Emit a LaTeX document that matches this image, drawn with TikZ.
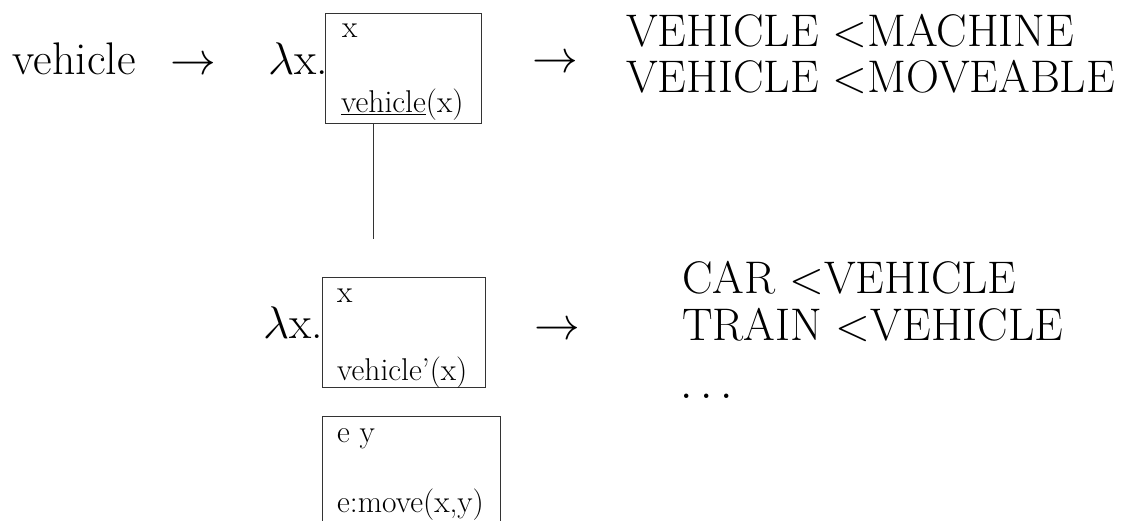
\RequirePackage{fix-cm}
\documentclass[tikz,border=0pt]{standalone}
\usepackage{fontspec}
\setmainfont{Latin Modern Roman}
\begin{document}
\begin{tikzpicture}[x=1pt,y=-1pt,
  big/.style={anchor=base west, inner sep=0pt, font=\fontsize{45.7}{54}\selectfont},
  small/.style={anchor=base west, inner sep=0pt, font=\fontsize{31.5}{37}\selectfont},
  drsbox/.style={draw=black!80, line width=0.9pt, anchor=north west, inner sep=0pt, minimum width=#1},
  ln/.style={draw=black!80, line width=0.9pt}]
\useasboundingbox (0,0) rectangle (1124,521);
\clip (0,0) rectangle (1124,521);
% row 1
\node[big] (veh) at (12.7,75) {vehicle};
\node[big] (ar1) at (170,75) {$\rightarrow$};
\node[big] (lam1) at (268,75) {$\lambda$x.};
\node[drsbox=156pt, minimum height=110pt] (b1) at (325,13) {};
\node[small] (b1u) at (342,38) {x};
\node[small] (b1c) at (341,113) {\underline{vehicle}(x)};
\node[big] (ar2) at (532,73) {$\rightarrow$};
\node[big] (r1a) at (626,47) {VEHICLE <MACHINE};
\node[big] (r1b) at (626,93) {VEHICLE <MOVEABLE};
% connector
\coordinate (lend) at (373,239);
\draw[ln] (lend |- b1.south) -- (lend);
% row 2
\node[big] (lam2) at (263,338) {$\lambda$x.};
\node[drsbox=163pt, minimum height=110pt] (b2) at (322,277) {};
\node[small] (b2u) at (337,302) {x};
\node[small] (b2c) at (337,380) {vehicle'(x)};
\node[big] (ar3) at (534,339) {$\rightarrow$};
\node[big] (r2a) at (682,294) {CAR <VEHICLE};
\node[big] (r2b) at (682,340) {TRAIN <VEHICLE};
\node[big] (r2c) at (680,398) {$\ldots$};
% box 3
\node[drsbox=178pt, minimum height=130pt] (b3) at (322,416) {};
\node[small] (b3u) at (337,442) {e y};
\node[small] (b3c) at (337,512) {e:move(x,y)};
\end{tikzpicture}
\end{document}
